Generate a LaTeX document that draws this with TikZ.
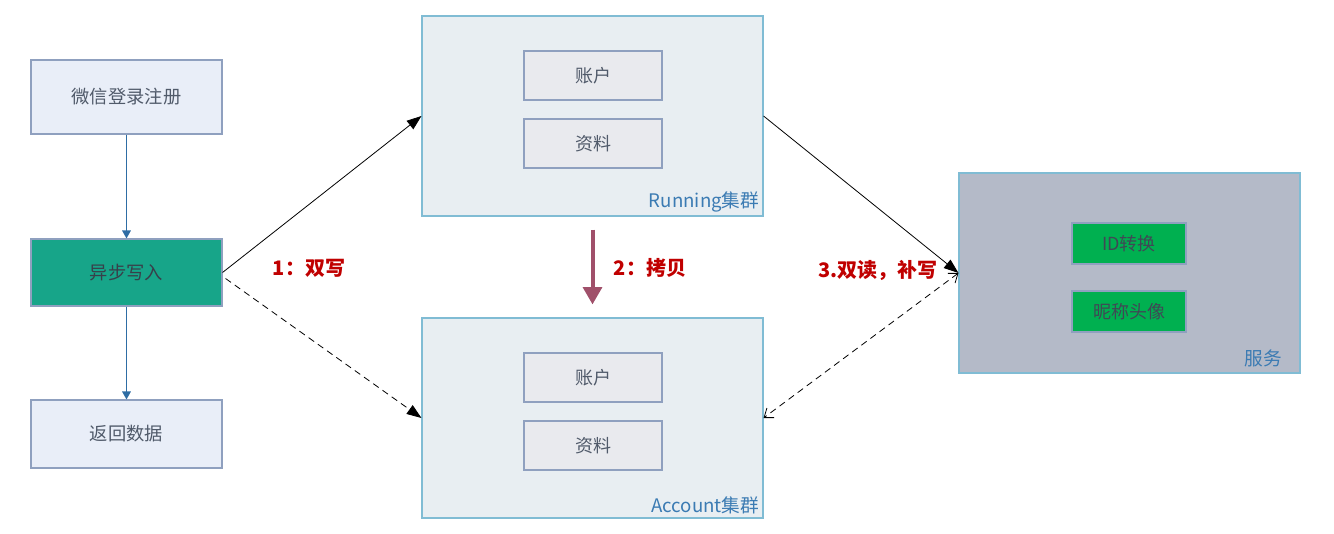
\documentclass[tikz,border=0pt]{standalone}
\usepackage{fontspec}
\setmainfont{Noto Sans CJK SC}
\usetikzlibrary{arrows.meta,calc}
\definecolor{lbfill}{HTML}{E9EEF8}
\definecolor{lbdraw}{HTML}{8FA0BF}
\definecolor{teal}{HTML}{17A589}
\definecolor{clfill}{HTML}{E8EEF2}
\definecolor{cldraw}{HTML}{80BCD4}
\definecolor{infill}{HTML}{E9EAEE}
\definecolor{svfill}{HTML}{B4BAC8}
\definecolor{grn}{HTML}{00B050}
\definecolor{txt}{HTML}{505A6A}
\definecolor{bluetxt}{HTML}{3B7BB3}
\definecolor{redtxt}{HTML}{C00000}
\definecolor{bluearr}{HTML}{2E6DA4}
\definecolor{maroon}{HTML}{A0506A}
\tikzset{
  px/.style={x=0.75pt,y=-0.75pt},
  leftbox/.style={draw=lbdraw,fill=lbfill,line width=0.8pt,minimum width=143.25pt,inner sep=0pt,font=\fontsize{13.7pt}{16pt}\selectfont,text=txt},
  cluster/.style={draw=cldraw,fill=clfill,line width=0.8pt,minimum width=255.75pt,minimum height=150pt,inner sep=0pt},
  innerbox/.style={draw=lbdraw,fill=infill,line width=0.8pt,minimum width=103.5pt,minimum height=36.75pt,inner sep=0pt,font=\fontsize{13.5pt}{16pt}\selectfont,text=txt},
  greenbox/.style={draw=lbdraw,fill=grn,line width=0.8pt,minimum width=85.5pt,minimum height=30.75pt,inner sep=0pt,font=\fontsize{13.5pt}{16pt}\selectfont,text=txt!80!black},
  cllabel/.style={anchor=south east,inner sep=0pt,font=\fontsize{14pt}{16pt}\selectfont,text=bluetxt},
  redlabel/.style={inner sep=0pt,font=\bfseries\fontsize{15pt}{18pt}\selectfont,text=redtxt},
  bluearrow/.style={draw=bluearr,line width=0.9pt,-{Triangle[length=6pt,width=6.5pt]}},
  solidarrow/.style={draw=black,line width=0.6pt,-{Triangle[length=11pt,width=8pt]}},
  dasharrow/.style={draw=black,line width=0.6pt,dash pattern=on 5pt off 3.5pt},
}
\begin{document}
\begin{tikzpicture}[px]
\useasboundingbox (0,0) rectangle (1334,534);
% left column
\node[leftbox,minimum height=55.5pt] (wx) at (126.5,97) {微信登录注册};
\node[leftbox,fill=teal,text=txt!70!black,minimum height=50.25pt] (yb) at (126.5,272.5) {异步写入};
\node[leftbox,minimum height=51pt] (fh) at (126.5,434) {返回数据};
\draw[bluearrow] (wx) -- (yb);
\draw[bluearrow] (yb) -- (fh);
% clusters
\node[cluster] (run) at (592.5,116) {};
\node[innerbox] (run1) at (593,75.5) {账户};
\node[innerbox] (run2) at (593,143.5) {资料};
\node[cllabel] (runl) at ($(run.south east)+(-4,-4)$) {Running集群};
\node[cluster] (acc) at (592.5,418) {};
\node[innerbox] (acc1) at (593,377.5) {账户};
\node[innerbox] (acc2) at (593,445.5) {资料};
\node[cllabel] (accl) at ($(acc.south east)+(-4,-4)$) {Account集群};
% service
\node[cluster,fill=svfill] (svc) at (1129.5,273) {};
\node[greenbox] (svc1) at (1129,243.5) {ID转换};
\node[greenbox] (svc2) at (1129,311.5) {昵称头像};
\node[cllabel] (svcl) at ($(svc.south east)+(-18,-6)$) {服务};
% connectors
\draw[solidarrow] (yb.east) -- (run.west);
\draw[dasharrow,-{Triangle[length=11pt,width=8pt]}] ($(yb.east)+(3,6)$) coordinate (ybd) -- (acc.west);
\draw[solidarrow] (run.east) -- (svc.west);
\draw[dasharrow,{Straight Barb[length=6pt,width=9pt]}-{Straight Barb[length=6pt,width=9pt]}] (svc.west) -- (acc.east);
\coordinate (cp1) at ($(run.south)+(0,13)$);
\coordinate (cp2) at ($(acc.north)+(0,-13)$);
\draw[draw=maroon,line width=3pt,-{Triangle[length=13pt,width=14pt]}] (cp1) -- (cp2);
% labels
\node[redlabel] (l1) at (309,268) {1：双写};
\node[redlabel] (l2) at (650,268) {2：拷贝};
\node[redlabel] (l3) at (878,270) {3.双读，补写};
\end{tikzpicture}
\end{document}
